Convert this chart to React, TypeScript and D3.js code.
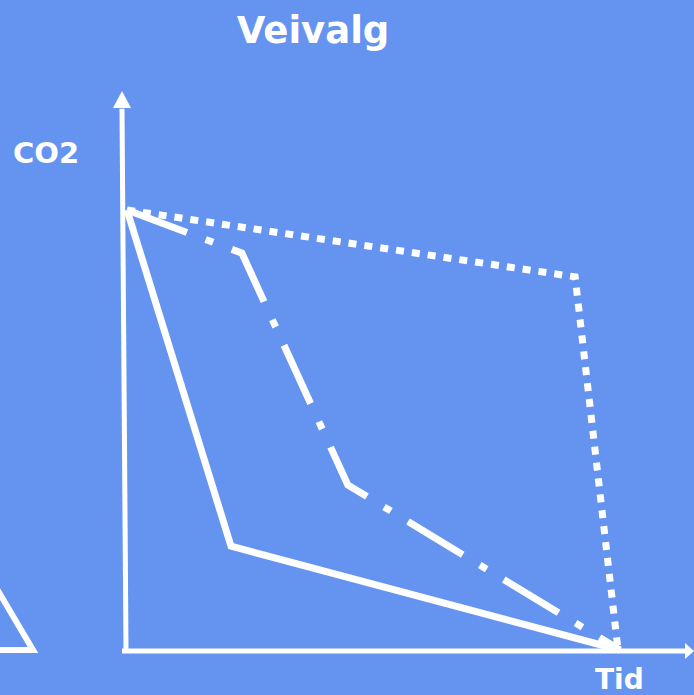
import { useEffect, useRef } from 'react'
import * as d3 from 'd3'

// time (x) and CO2 (y), both on a 0-100 scale
const solidX = [0, 21.1, 100]
const solidY = [100, 23.6, 0]
const dashDotX = [0, 23.3, 44.8, 100]
const dashDotY = [100, 90.2, 37.5, 0]
const dottedX = [0, 90.9, 99.6]
const dottedY = [100, 84.8, 0]

const title = 'Veivalg'
const yLabel = 'CO2'
const xLabel = 'Tid'

const W = 694
const H = 695

export default function App() {
  const ref = useRef<SVGSVGElement | null>(null)

  useEffect(() => {
    const svg = d3.select(ref.current)
    svg.selectAll('*').remove()

    svg.append('rect').attr('width', W).attr('height', H).attr('fill', '#6494F0')

    const xScale = d3.scaleLinear().domain([0, 100]).range([127, 620])
    const yScale = d3.scaleLinear().domain([0, 100]).range([650, 210])

    const line = d3
      .line<[number, number]>()
      .x((d) => xScale(d[0]))
      .y((d) => yScale(d[1]))

    // axes
    const x0 = xScale(0)
    const y0 = yScale(0)
    svg.append('line')
      .attr('x1', x0 - 1).attr('y1', y0)
      .attr('x2', x0 - 5).attr('y2', yScale(123))
      .attr('stroke', 'white').attr('stroke-width', 5)
    svg.append('path')
      .attr('d', `M${x0 - 5},91 L${x0 - 14},108 L${x0 + 4},108 Z`)
      .attr('fill', 'white')

    svg.append('line')
      .attr('x1', x0 - 5).attr('y1', y0 + 1)
      .attr('x2', 688).attr('y2', y0 + 1)
      .attr('stroke', 'white').attr('stroke-width', 5)
    svg.append('path')
      .attr('d', `M694,${y0 + 1} L685,${y0 - 7} L685,${y0 + 9} Z`)
      .attr('fill', 'white')

    // leftover shape at the slide edge
    svg.append('path')
      .attr('d', 'M-6,584 L33,650 L-5,650')
      .attr('fill', 'none').attr('stroke', 'white').attr('stroke-width', 6)

    const series = [
      { xs: solidX, ys: solidY, dash: null },
      { xs: dashDotX, ys: dashDotY, dash: '64 20 8 20' },
      { xs: dottedX, ys: dottedY, dash: '8 8' },
    ]

    series.forEach((s) => {
      const pts = s.xs.map((x, i) => [x, s.ys[i]] as [number, number])
      svg.append('path')
        .attr('d', line(pts)!)
        .attr('fill', 'none')
        .attr('stroke', 'white')
        .attr('stroke-width', 7)
        .attr('stroke-linejoin', 'miter')
        .attr('stroke-dasharray', s.dash)
    })

    svg.append('text')
      .attr('x', 313).attr('y', 43)
      .attr('text-anchor', 'middle')
      .attr('font-family', 'DejaVu Sans')
      .attr('font-weight', 'bold')
      .attr('font-size', 37)
      .attr('fill', 'white')
      .text(title)

    svg.append('text')
      .attr('x', 13).attr('y', 163)
      .attr('font-family', 'DejaVu Sans')
      .attr('font-weight', 'bold')
      .attr('font-size', 29)
      .attr('fill', 'white')
      .text(yLabel)

    svg.append('text')
      .attr('x', 595).attr('y', 689)
      .attr('font-family', 'DejaVu Sans')
      .attr('font-weight', 'bold')
      .attr('font-size', 28)
      .attr('fill', 'white')
      .text(xLabel)
  }, [])

  return (
    <svg
      width={W}
      height={H}
      ref={ref}
      style={{ position: 'absolute', left: 0, top: 0, display: 'block' }}
    />
  )
}
